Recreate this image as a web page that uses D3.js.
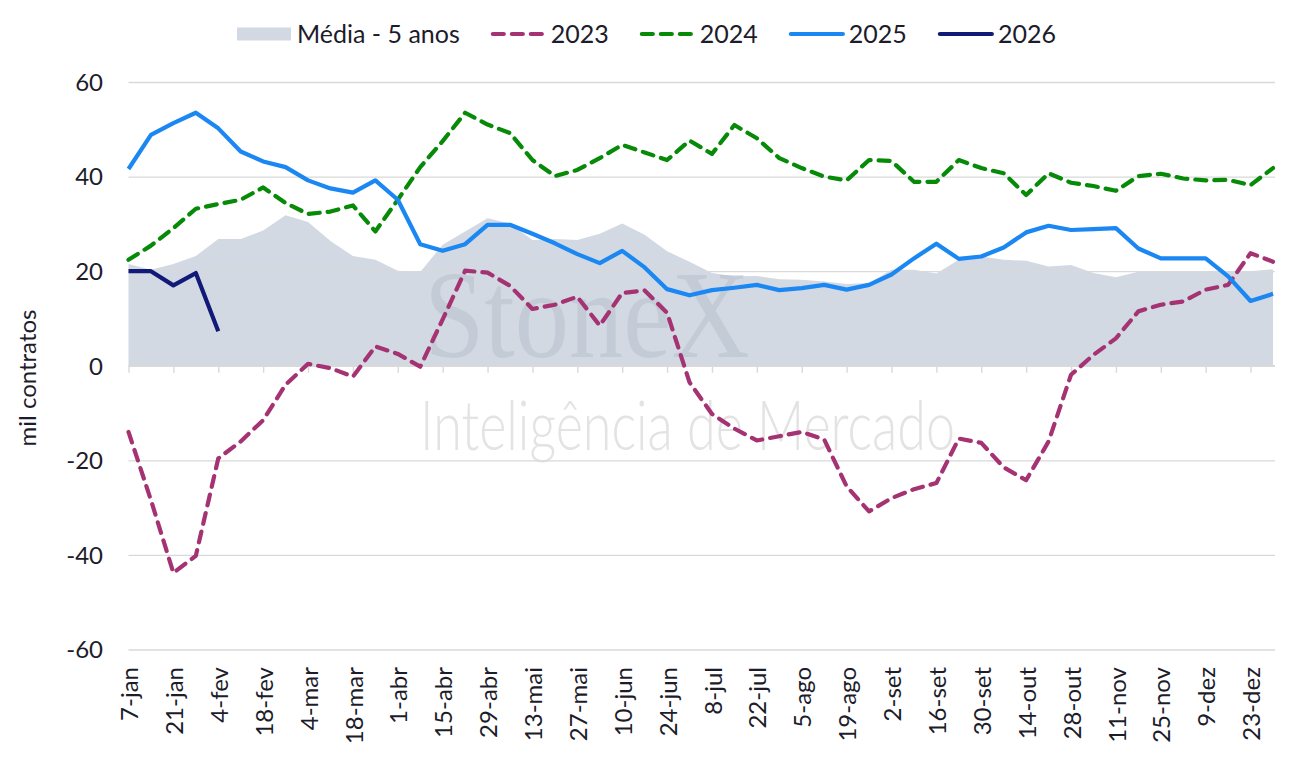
<!DOCTYPE html>
<html>
<head>
<meta charset="utf-8">
<script src="https://cdn.jsdelivr.net/npm/d3@7"></script>
<style>
  body { margin: 0; background: #fff; }
  text { font-family: Lato, "Noto Sans", sans-serif; fill: #1c1c2b; }
</style>
</head>
<body>
<svg id="chart" width="1298" height="767"></svg>
<script>
// weekly categories (every other one is labelled)
const categories = [
  "7-jan", "14-jan", "21-jan", "28-jan", "4-fev", "11-fev", "18-fev", "25-fev",
  "4-mar", "11-mar", "18-mar", "25-mar", "1-abr", "8-abr", "15-abr", "22-abr", "29-abr",
  "6-mai", "13-mai", "20-mai", "27-mai", "3-jun", "10-jun", "17-jun", "24-jun",
  "1-jul", "8-jul", "15-jul", "22-jul", "29-jul", "5-ago", "12-ago", "19-ago", "26-ago",
  "2-set", "9-set", "16-set", "23-set", "30-set", "7-out", "14-out", "21-out", "28-out",
  "4-nov", "11-nov", "18-nov", "25-nov", "2-dez", "9-dez", "16-dez", "23-dez", "30-dez"
];

const media5 = [
  21.5, 20.3, 21.5, 23.2, 26.8, 26.8, 28.6, 31.8, 30.4, 26.4,
  23.2, 22.4, 20.1, 19.8, 25.6, 28.4, 31.2, 30.1, 26.6, 26.8,
  26.6, 27.9, 30.1, 27.7, 24.2, 22.0, 19.6, 18.9, 19.0, 18.3,
  18.2, 17.8, 17.3, 17.5, 20.3, 20.3, 19.5, 22.4, 23.1, 22.4,
  22.2, 21.0, 21.3, 19.6, 18.7, 19.9, 20.0, 20.0, 20.0, 20.0,
  20.0, 20.4
];

const s2023 = [
  -14.0, -28.4, -43.8, -40.2, -19.6, -16.0, -11.5, -4.0, 0.4, -0.5,
  -2.3, 4.1, 2.5, -0.2, 9.8, 20.1, 19.7, 16.9, 12.0, 12.9,
  14.6, 8.5, 15.4, 15.9, 11.2, -3.5, -10.2, -13.3, -15.8, -14.9,
  -14.0, -15.6, -25.5, -30.8, -28.0, -26.1, -24.8, -15.4, -16.3, -21.5,
  -24.2, -16.0, -1.9, 2.3, 5.8, 11.5, 12.9, 13.6, 16.1, 17.1,
  23.8, 22.0
];

const s2024 = [
  22.4, 25.4, 29.1, 33.2, 34.2, 35.1, 37.7, 34.4, 32.1, 32.6,
  33.9, 28.4, 35.1, 42.0, 47.5, 53.5, 51.0, 49.2, 43.5, 40.1,
  41.4, 43.9, 46.7, 45.1, 43.5, 47.6, 44.8, 50.9, 48.1, 43.9,
  41.8, 40.0, 39.2, 43.5, 43.3, 38.9, 38.9, 43.5, 41.8, 40.7,
  36.1, 40.7, 38.7, 38.0, 37.0, 40.1, 40.6, 39.6, 39.2, 39.3,
  38.2, 41.8
];

const s2025 = [
  41.6, 48.8, 51.3, 53.5, 50.2, 45.3, 43.2, 42.0, 39.2, 37.5,
  36.6, 39.2, 35.1, 25.7, 24.3, 25.7, 29.8, 29.8, 27.9, 25.9,
  23.6, 21.7, 24.3, 20.8, 16.2, 14.9, 16.0, 16.5, 17.1, 16.0,
  16.4, 17.1, 16.1, 17.1, 19.3, 22.7, 25.8, 22.6, 23.1, 25.0,
  28.2, 29.6, 28.7, 28.9, 29.1, 24.8, 22.7, 22.7, 22.7, 18.9,
  13.7, 15.2
];

const s2026 = [20.0, 20.0, 17.0, 19.6, 7.3];

const yTicks = [-60, -40, -20, 0, 20, 40, 60];
const tickCats = categories.filter((d, i) => i % 2 === 0);

const lineSeries = [
  { name: "2023", values: s2023 },
  { name: "2024", values: s2024 },
  { name: "2025", values: s2025 },
  { name: "2026", values: s2026 }
];
const style = {
  "2023": { color: "#a53373", dash: "11 8" },
  "2024": { color: "#078a07", dash: "11 8" },
  "2025": { color: "#1b87f2", dash: null },
  "2026": { color: "#121a78", dash: null }
};
const areaColor = "#d2d9e3";
const gridColor = "#d9d9d9";
const fontSize = "24px";

const svg = d3.select("#chart");
const left = 128.5, right = 1273, plotRight = 1275;

const x = d3.scalePoint().domain(categories).range([left, right]);
const y = d3.scaleLinear().domain([-60, 60]).range([649.5, 82]);

// light watermark below the zero line
svg.append("text")
  .attr("x", 420).attr("y", 450)
  .attr("textLength", 535).attr("lengthAdjust", "spacingAndGlyphs")
  .style("font-size", "69px").style("font-weight", 300)
  .style("fill", "#e3e3e3")
  .text("Inteligência de Mercado");

// 5 year average area
svg.append("path")
  .datum(media5)
  .attr("fill", areaColor)
  .attr("d", d3.area()
    .x((d, i) => x(categories[i]))
    .y0(y(0))
    .y1(d => y(d)));

svg.append("text")
  .attr("x", 424).attr("y", 357)
  .attr("textLength", 326).attr("lengthAdjust", "spacingAndGlyphs")
  .style("font-family", "'Liberation Serif', 'DejaVu Serif', serif")
  .style("font-size", "124px")
  .style("fill", "#aab3c3").style("opacity", 0.35)
  .text("StoneX");

// gridlines
const grid = svg.append("g")
  .attr("transform", `translate(${left},0)`)
  .call(d3.axisLeft(y).tickValues(yTicks).tickSize(-(plotRight - left)).tickFormat(""));
grid.select(".domain").remove();
grid.selectAll("line").attr("stroke", gridColor).attr("stroke-width", 1.4);

// x tick marks on the zero line
const zeroAxis = svg.append("g")
  .attr("transform", `translate(0,${y(0)})`)
  .call(d3.axisBottom(x).tickValues(tickCats).tickSize(7).tickSizeOuter(0).tickFormat(""));
zeroAxis.select(".domain").attr("stroke", gridColor).attr("stroke-width", 1.4)
  .attr("d", `M${left},0H${plotRight}`);
zeroAxis.selectAll("line").attr("stroke", gridColor).attr("stroke-width", 1.4);

// y labels (plain hyphen for negatives)
const yAxis = svg.append("g")
  .attr("transform", "translate(103,0)")
  .call(d3.axisLeft(y).tickValues(yTicks).tickSize(0).tickPadding(0)
    .tickFormat(d => String(d)));
yAxis.select(".domain").remove();
yAxis.selectAll("text").style("font-size", fontSize).attr("dy", "0.35em");

// x labels, rotated at the bottom
const xAxis = svg.append("g")
  .attr("transform", "translate(0,667)")
  .call(d3.axisBottom(x).tickValues(tickCats).tickSize(0));
xAxis.select(".domain").remove();
xAxis.selectAll("text")
  .attr("x", 0).attr("y", 0).attr("dy", "0.38em")
  .attr("text-anchor", "end")
  .attr("transform", "rotate(-90)")
  .style("font-size", fontSize);

svg.append("text")
  .attr("transform", "translate(36,378) rotate(-90)")
  .attr("text-anchor", "middle")
  .style("font-size", fontSize)
  .text("mil contratos");

// series lines
const line = d3.line()
  .x((d, i) => x(categories[i]))
  .y(d => y(d));

svg.selectAll(".series")
  .data(lineSeries)
  .join("path")
  .attr("class", "series")
  .attr("fill", "none")
  .attr("stroke", d => style[d.name].color)
  .attr("stroke-width", 4.2)
  .attr("stroke-linejoin", "round")
  .attr("stroke-linecap", d => style[d.name].dash ? "round" : "butt")
  .attr("stroke-dasharray", d => style[d.name].dash)
  .attr("d", d => line(d.values));

// legend
const legend = svg.append("g");
let lx = 237;
const legendItems = [{ name: "Média - 5 anos", area: true }].concat(lineSeries);
legendItems.forEach(item => {
  if (item.area) {
    legend.append("rect")
      .attr("x", lx).attr("y", 27.5).attr("width", 54).attr("height", 13)
      .attr("fill", areaColor);
  } else {
    const s = style[item.name];
    legend.append("line")
      .attr("x1", lx + 2).attr("x2", lx + 54).attr("y1", 34).attr("y2", 34)
      .attr("stroke", s.color).attr("stroke-width", 4.2)
      .attr("stroke-linecap", "round")
      .attr("stroke-dasharray", s.dash);
  }
  const t = legend.append("text")
    .attr("x", lx + 60).attr("y", 42.5)
    .style("font-size", "25px")
    .text(item.name);
  lx += 60 + t.node().getComputedTextLength() + 31;
});
</script>
</body>
</html>
